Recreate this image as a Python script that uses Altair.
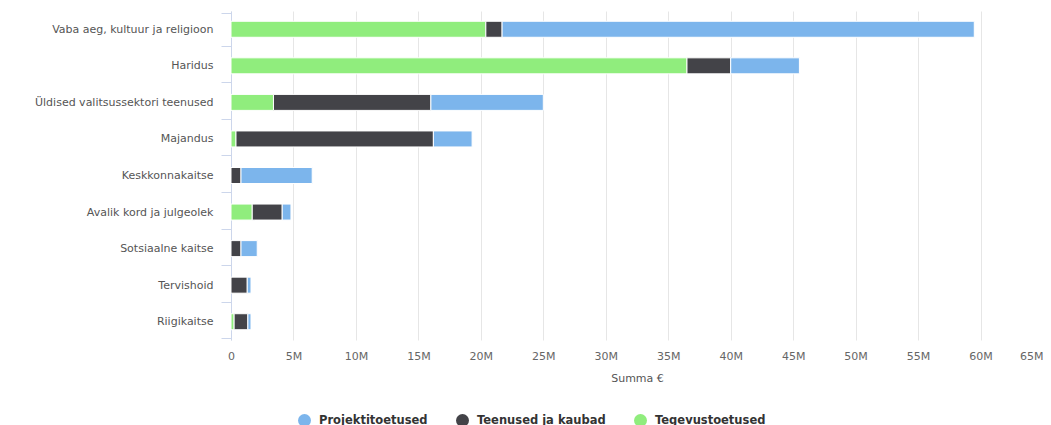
import altair as alt
import pandas as pd

categories = [
    "Vaba aeg, kultuur ja religioon",
    "Haridus",
    "Üldised valitsussektori teenused",
    "Majandus",
    "Keskkonnakaitse",
    "Avalik kord ja julgeolek",
    "Sotsiaalne kaitse",
    "Tervishoid",
    "Riigikaitse",
]
series = ["Projektitoetused", "Teenused ja kaubad", "Tegevustoetused"]
colors = ["#7cb5ec", "#434348", "#90ed7d"]

# values in euros
projektitoetused = [37.8e6, 5.5e6, 9.0e6, 3.1e6, 5.7e6, 0.7e6, 1.3e6, 0.3e6, 0.25e6]
teenused_ja_kaubad = [1.3e6, 3.5e6, 12.6e6, 15.8e6, 0.8e6, 2.4e6, 0.8e6, 1.3e6, 1.1e6]
tegevustoetused = [20.4e6, 36.5e6, 3.4e6, 0.4e6, 0.0, 1.7e6, 0.0, 0.0, 0.25e6]

tick_values = [i * 5e6 for i in range(14)]

rows = []
for vals, name, order in [
    (tegevustoetused, "Tegevustoetused", 0),
    (teenused_ja_kaubad, "Teenused ja kaubad", 1),
    (projektitoetused, "Projektitoetused", 2),
]:
    for cat, v in zip(categories, vals):
        rows.append({"kategooria": cat, "seeria": name, "summa": v, "ord": order})
df = pd.DataFrame(rows)

FONT = "DejaVu Sans"

chart = (
    alt.Chart(df)
    .mark_bar(size=16, stroke="white", strokeWidth=1)
    .encode(
        y=alt.Y(
            "kategooria:N",
            sort=categories,
            title=None,
            axis=alt.Axis(
                domainColor="#ccd6eb",
                tickColor="#ccd6eb",
                tickSize=10,
                tickBand="extent",
                labelPadding=8,
                labelFontSize=11,
                labelLimit=400,
                labelColor="#555555",
                labelFont=FONT,
                grid=False,
            ),
        ),
        x=alt.X(
            "summa:Q",
            stack="zero",
            scale=alt.Scale(domain=[0, 65e6], nice=False),
            title="Summa €",
            axis=alt.Axis(
                values=tick_values,
                labelExpr="datum.value == 0 ? '0' : format(datum.value / 1000000, 'd') + 'M'",
                labelAlign={"condition": {"test": "datum.value == 65000000", "value": "right"}, "value": "center"},
                grid=True,
                gridColor="#e6e6e6",
                domain=False,
                ticks=False,
                labelFontSize=11,
                labelColor="#666666",
                labelFont=FONT,
                labelPadding=10,
                titleFont=FONT,
                titleFontSize=11,
                titleFontWeight="normal",
                titleColor="#555555",
                titlePadding=11,
            ),
        ),
        color=alt.Color(
            "seeria:N",
            scale=alt.Scale(domain=series, range=colors),
            legend=alt.Legend(
                title=None,
                orient="none",
                direction="horizontal",
                legendX=67,
                legendY=403,
                symbolType="circle",
                symbolSize=169,
                symbolStrokeWidth=0,
                labelFont=FONT,
                labelFontSize=11.5,
                labelFontWeight="bold",
                labelColor="#333333",
                labelOffset=8,
                columnPadding=28,
            ),
        ),
        order=alt.Order("ord:Q", sort="ascending"),
    )
    .properties(
        width=812,
        height=329,
        autosize=alt.AutoSizeParams(type="none"),
        padding={"left": 223, "top": 3, "right": 0, "bottom": 92},
    )
    .configure_view(stroke=None)
)

chart.save("out.html", embed_options={"renderer": "svg", "actions": False})
